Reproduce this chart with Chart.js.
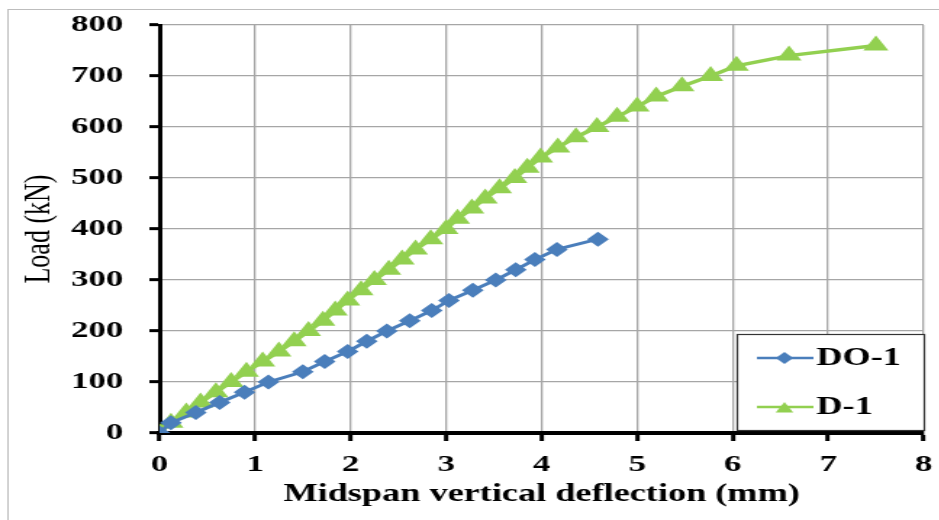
<!DOCTYPE html>
<html>
<head>
<meta charset="utf-8">
<script src="https://cdn.jsdelivr.net/npm/chart.js@4.4.1/dist/chart.umd.min.js"></script>
<style>
  html, body { margin: 0; padding: 0; background: #fff; overflow: hidden; }
  /* the reference picture is stretched sideways, so we stretch the canvas too */
  #chart { display: block; transform: scaleX(1.45); transform-origin: 0 0; }
</style>
</head>
<body>
<canvas id="chart" width="648" height="520"></canvas>
<script>
// series values
const do1Deflection = [0, 0.12, 0.38, 0.63, 0.89, 1.14, 1.50, 1.73, 1.97, 2.17, 2.38, 2.62, 2.85, 3.03, 3.28, 3.52, 3.73, 3.93, 4.16, 4.59];
const do1Load = [0, 20, 40, 60, 80, 100, 120, 140, 160, 180, 200, 220, 240, 260, 280, 300, 320, 340, 360, 380];

const d1Deflection = [0, 0.12, 0.28, 0.43, 0.59, 0.75, 0.91, 1.08, 1.25, 1.41, 1.56, 1.71, 1.84, 1.97, 2.11, 2.25, 2.40, 2.54, 2.68, 2.84,
  3.00, 3.12, 3.27, 3.41, 3.56, 3.72, 3.85, 3.99, 4.17, 4.36, 4.58, 4.79, 5.00, 5.20, 5.47, 5.77, 6.04, 6.59, 7.50];
const d1Load = [0, 20, 40, 60, 80, 100, 120, 140, 160, 180, 200, 220, 240, 260, 280, 300, 320, 340, 360, 380,
  400, 420, 440, 460, 480, 500, 520, 540, 560, 580, 600, 620, 640, 660, 680, 700, 720, 740, 760];

const seriesNames = ["DO-1", "D-1"];
const xTitle = "Midspan vertical deflection (mm)";
const yTitle = "Load (kN)";

const toPoints = (xs, ys) => xs.map((x, i) => ({ x: x, y: ys[i] }));

const BLUE = "#4A7EBB";
const GREEN = "#92D050";
const SERIF = "'Liberation Serif', 'Times New Roman', serif";

// white page + thin grey frame
const background = {
  id: "background",
  beforeDraw(chart) {
    const ctx = chart.ctx;
    ctx.save();
    ctx.fillStyle = "#fff";
    ctx.fillRect(0, 0, chart.width, chart.height);
    ctx.strokeStyle = "#bdbdbd";
    ctx.lineWidth = 1;
    ctx.strokeRect(5.5, 9.5, chart.width + 20, chart.height + 20);
    ctx.restore();
  },
};

function marker(ctx, style, x, y, r) {
  ctx.beginPath();
  if (style === "rectRot") {
    ctx.moveTo(x, y - r);
    ctx.lineTo(x + r, y);
    ctx.lineTo(x, y + r);
    ctx.lineTo(x - r, y);
  } else {
    ctx.moveTo(x, y - r);
    ctx.lineTo(x + r * 0.866, y + r / 2);
    ctx.lineTo(x - r * 0.866, y + r / 2);
  }
  ctx.closePath();
  ctx.fill();
}

// boxed legend sitting inside the plot, bottom right
const boxLegend = {
  id: "boxLegend",
  afterDraw(chart) {
    const ctx = chart.ctx;
    const left = 508, top = 334, w = 129, h = 96;
    ctx.save();
    ctx.fillStyle = "#fff";
    ctx.fillRect(left, top, w, h);
    ctx.strokeStyle = "#333";
    ctx.lineWidth = 1.2;
    ctx.strokeRect(left + 0.5, top + 0.5, w, h);
    chart.data.datasets.forEach((ds, i) => {
      const y = top + 24 + i * 49;
      ctx.strokeStyle = ds.borderColor;
      ctx.lineWidth = 2.5;
      ctx.beginPath();
      ctx.moveTo(left + 14, y);
      ctx.lineTo(left + 53, y);
      ctx.stroke();
      ctx.fillStyle = ds.backgroundColor;
      marker(ctx, ds.pointStyle, left + 33, y + (ds.pointStyle === "triangle" ? 2 : 0), ds.pointStyle === "triangle" ? 7 : 6);
      ctx.fillStyle = "#000";
      ctx.font = "bold 25px " + SERIF;
      ctx.textBaseline = "middle";
      ctx.textAlign = "left";
      ctx.fillText(ds.label, left + 55, y + 1);
    });
    ctx.restore();
  },
};

new Chart(document.getElementById("chart"), {
  type: "scatter",
  data: {
    datasets: [
      {
        label: seriesNames[0],
        data: toPoints(do1Deflection, do1Load),
        showLine: true,
        borderColor: BLUE,
        backgroundColor: BLUE,
        borderWidth: 3,
        pointStyle: "rectRot",
        pointRadius: 7.5,
        pointBorderWidth: 0,
      },
      {
        label: seriesNames[1],
        data: toPoints(d1Deflection, d1Load),
        showLine: true,
        borderColor: GREEN,
        backgroundColor: GREEN,
        borderWidth: 3.5,
        pointStyle: "triangle",
        pointRadius: 10,
        pointBorderWidth: 0,
      },
    ],
  },
  options: {
    responsive: false,
    animation: false,
    layout: { padding: { left: 0, top: 25, right: 11, bottom: 0 } },
    plugins: {
      legend: { display: false },
      tooltip: { enabled: false },
    },
    scales: {
      x: {
        type: "linear",
        min: 0,
        max: 8,
        afterFit: (s) => { s.height = 87; s.paddingLeft = 0; s.paddingRight = 0; },
        ticks: {
          stepSize: 1,
          padding: 9,
          color: "#000",
          font: { family: SERIF, size: 24, weight: "bold" },
        },
        grid: { color: "#a6a6a6", lineWidth: 1.3, tickColor: "#000", tickLength: 8, tickWidth: 3 },
        border: { color: "#000", width: 4 },
        title: {
          display: true,
          text: xTitle,
          color: "#000",
          font: { family: SERIF, size: 25, weight: "bold" },
          padding: { top: 0, bottom: 10 },
        },
      },
      y: {
        min: 0,
        max: 800,
        afterFit: (s) => { s.width = 110; s.paddingTop = 0; s.paddingBottom = 0; },
        ticks: {
          stepSize: 100,
          padding: 18,
          color: "#000",
          font: { family: SERIF, size: 24, weight: "bold" },
        },
        grid: { color: "#a6a6a6", lineWidth: 1.3, tickColor: "#000", tickLength: 7, tickWidth: 3 },
        border: { color: "#000", width: 3 },
        title: {
          display: true,
          text: yTitle,
          color: "#000",
          font: { family: SERIF, size: 26, weight: "normal" },
          padding: { top: 12, bottom: 0 },
        },
      },
    },
  },
  plugins: [background, boxLegend],
});
</script>
</body>
</html>
